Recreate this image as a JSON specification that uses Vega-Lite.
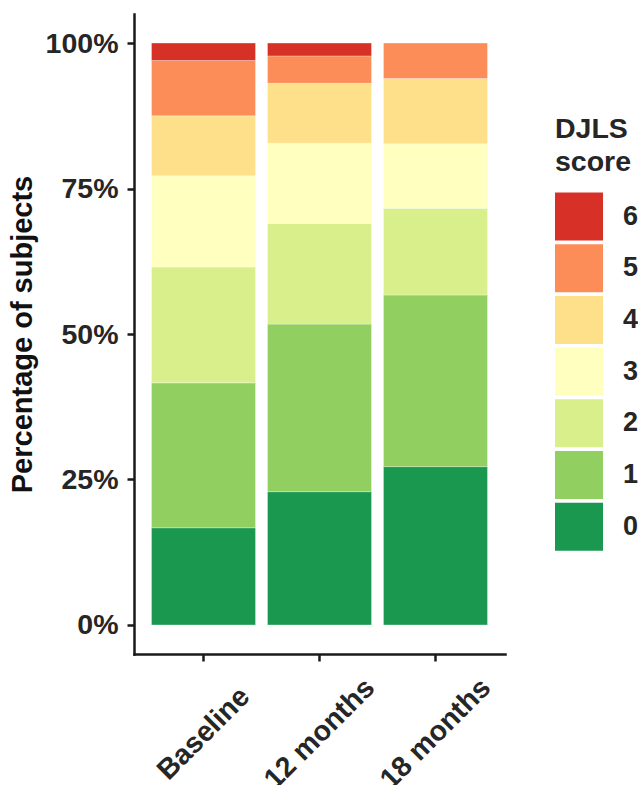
{
  "$schema": "https://vega.github.io/schema/vega-lite/v6.json",
  "autosize": {"type": "none"},
  "padding": {"left": 134, "top": 14, "right": 133, "bottom": 131},
  "width": 371,
  "height": 640,
  "background": "white",
  "config": {
    "view": {"stroke": null},
    "font": "Liberation Sans"
  },
  "data": {
    "values": [
      {"period": "Baseline", "score": 0, "pct": 16.7},
      {"period": "Baseline", "score": 1, "pct": 24.9},
      {"period": "Baseline", "score": 2, "pct": 19.9},
      {"period": "Baseline", "score": 3, "pct": 15.7},
      {"period": "Baseline", "score": 4, "pct": 10.3},
      {"period": "Baseline", "score": 5, "pct": 9.5},
      {"period": "Baseline", "score": 6, "pct": 3.0},
      {"period": "12 months", "score": 0, "pct": 22.9},
      {"period": "12 months", "score": 1, "pct": 28.8},
      {"period": "12 months", "score": 2, "pct": 17.3},
      {"period": "12 months", "score": 3, "pct": 13.8},
      {"period": "12 months", "score": 4, "pct": 10.3},
      {"period": "12 months", "score": 5, "pct": 4.7},
      {"period": "12 months", "score": 6, "pct": 2.2},
      {"period": "18 months", "score": 0, "pct": 27.2},
      {"period": "18 months", "score": 1, "pct": 29.5},
      {"period": "18 months", "score": 2, "pct": 14.9},
      {"period": "18 months", "score": 3, "pct": 11.1},
      {"period": "18 months", "score": 4, "pct": 11.2},
      {"period": "18 months", "score": 5, "pct": 6.1}
    ]
  },
  "mark": {"type": "bar", "stroke": "white", "strokeWidth": 0.5, "strokeOpacity": 0.6},
  "encoding": {
    "x": {
      "field": "period",
      "type": "nominal",
      "sort": ["Baseline", "12 months", "18 months"],
      "scale": {"paddingInner": 0.1034, "paddingOuter": 0.151},
      "axis": {
        "title": null,
        "labelAngle": 315,
        "labelAlign": "center",
        "labelBaseline": "middle",
        "labelPadding": 72,
        "labelFontSize": 28.5,
        "labelFontWeight": "bold",
        "labelColor": "#262626",
        "tickSize": 7,
        "tickWidth": 2.5,
        "tickColor": "#1a1a1a",
        "domainWidth": 2.5,
        "domainColor": "#1a1a1a",
        "domainCap": "square",
        "grid": false
      }
    },
    "y": {
      "field": "pct",
      "type": "quantitative",
      "stack": "zero",
      "scale": {"domain": [-5, 105], "nice": false, "zero": false},
      "axis": {
        "title": "Percentage of subjects",
        "titleFontSize": 29,
        "titleFontWeight": "bold",
        "titleColor": "#111111",
        "titlePadding": 8,
        "values": [0, 25, 50, 75, 100],
        "labelExpr": "datum.value + '%'",
        "labelFontSize": 28.5,
        "labelFontWeight": "bold",
        "labelColor": "#262626",
        "labelPadding": 9,
        "tickSize": 7,
        "tickWidth": 2.5,
        "tickColor": "#1a1a1a",
        "domainWidth": 2.5,
        "domainColor": "#1a1a1a",
        "domainCap": "square",
        "grid": false
      }
    },
    "color": {
      "field": "score",
      "type": "ordinal",
      "scale": {
        "domain": [6, 5, 4, 3, 2, 1, 0],
        "range": ["#d73027", "#fc8d59", "#fee08b", "#ffffbf", "#d9ef8b", "#91cf60", "#1a9850"]
      },
      "legend": {
        "title": ["DJLS", "score"],
        "titleFontSize": 28.5,
        "titleFontWeight": "bold",
        "titleColor": "#262626",
        "titleLineHeight": 33,
        "titlePadding": 16,
        "labelFontSize": 27,
        "labelFontWeight": "bold",
        "labelColor": "#262626",
        "labelOffset": 20,
        "symbolType": "square",
        "symbolSize": 2304,
        "symbolStrokeWidth": 0,
        "symbolOpacity": 1,
        "rowPadding": 3.7,
        "padding": 0,
        "orient": "none",
        "legendX": 421,
        "legendY": 101
      }
    },
    "order": {"field": "score", "type": "quantitative", "sort": "ascending"}
  }
}
